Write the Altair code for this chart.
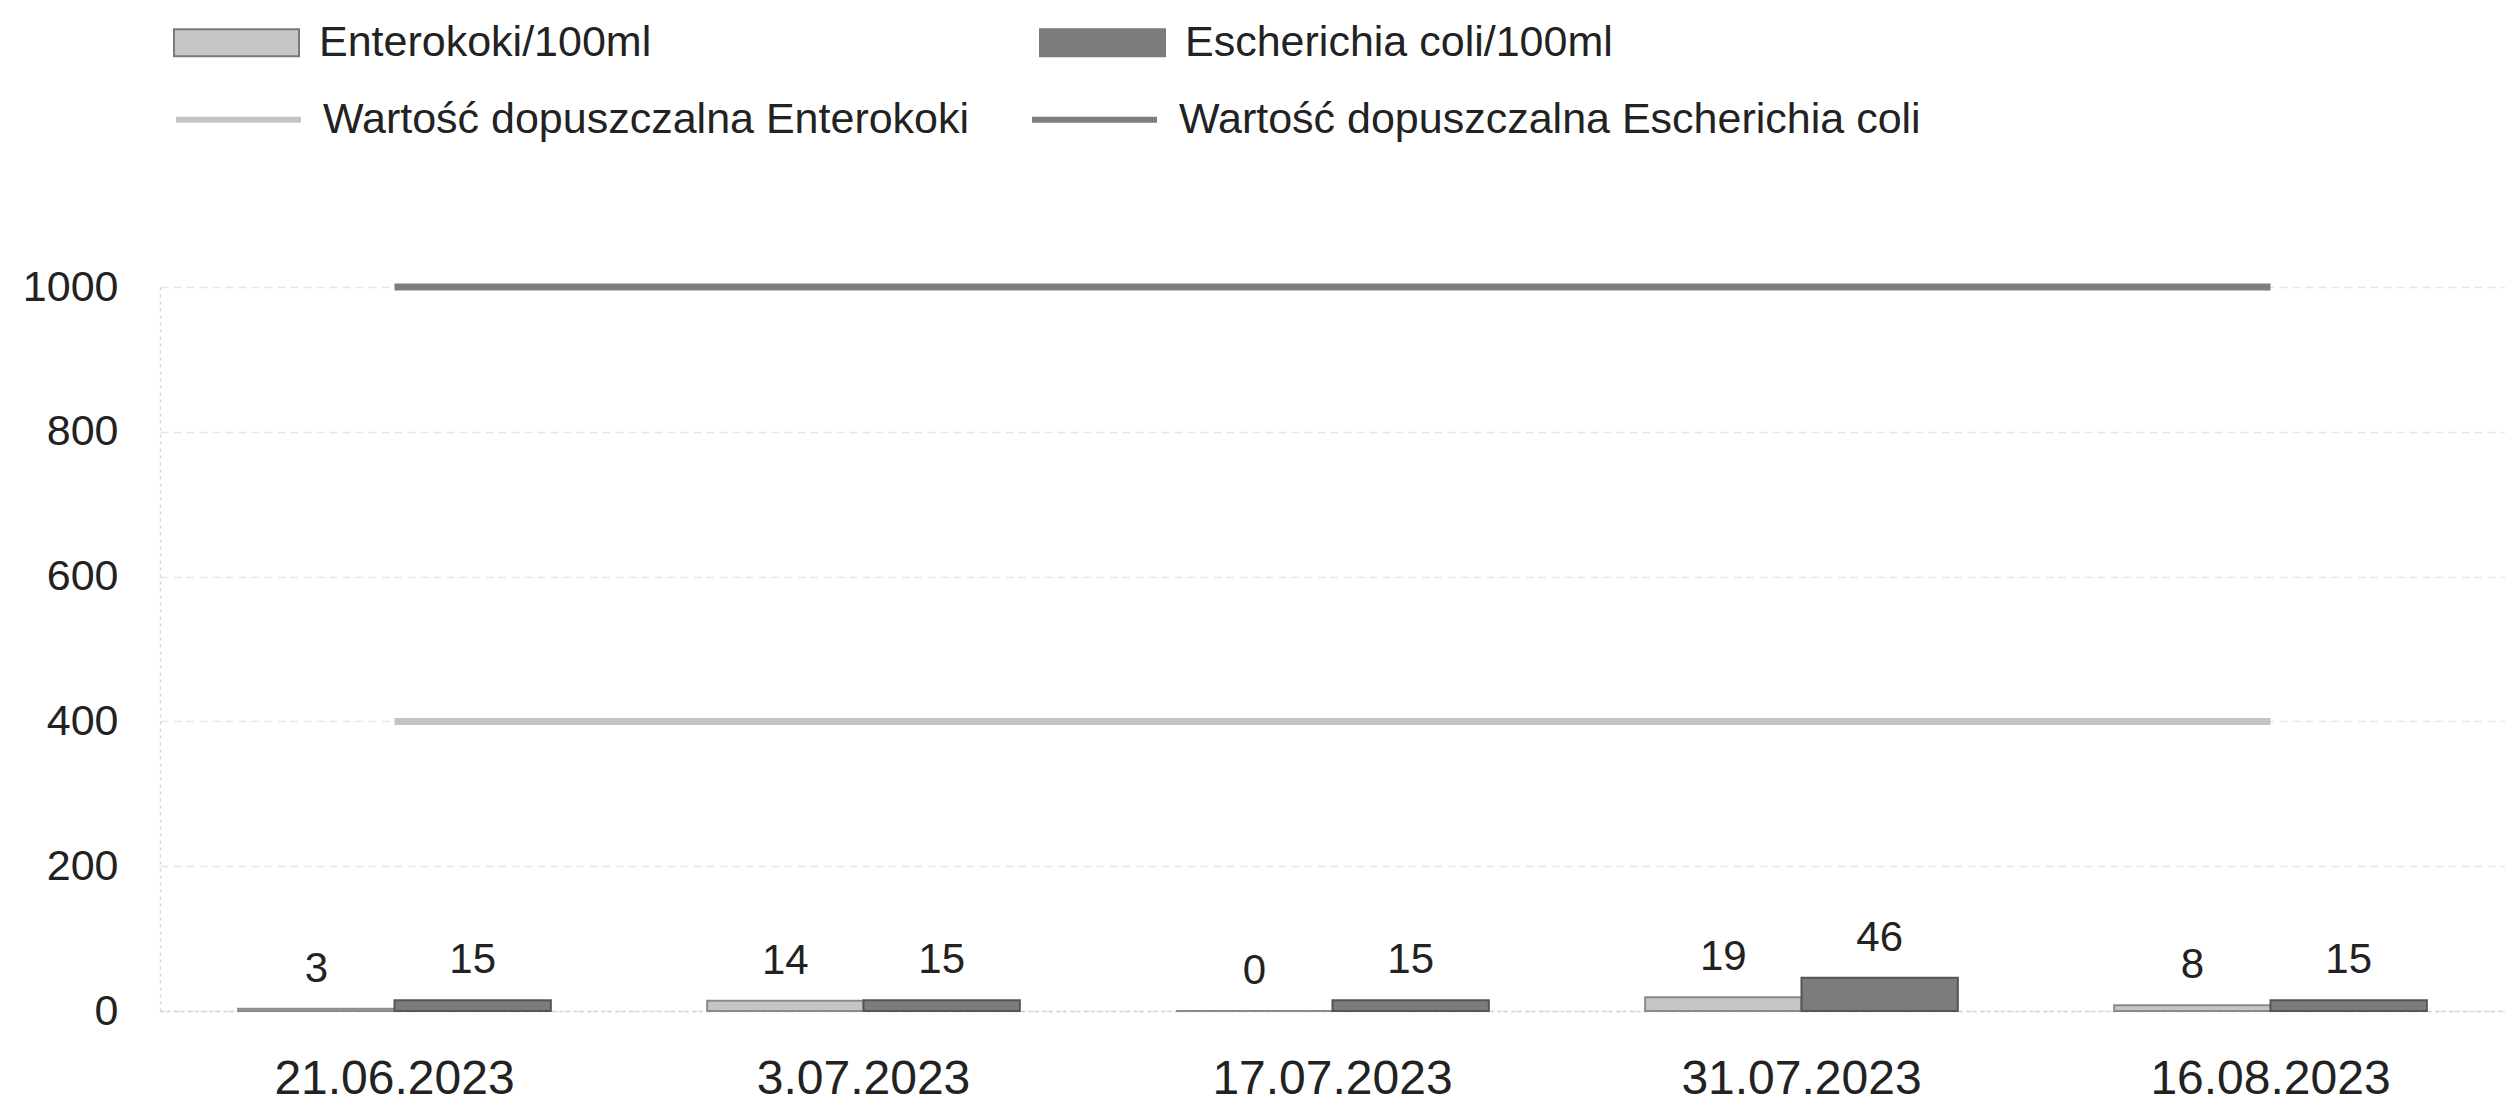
import altair as alt
import pandas as pd

dates = ["21.06.2023", "3.07.2023", "17.07.2023", "31.07.2023", "16.08.2023"]
enterokoki = [3, 14, 0, 19, 8]
ecoli = [15, 15, 15, 46, 15]
limit_enterokoki = [400, 400, 400, 400, 400]
limit_ecoli = [1000, 1000, 1000, 1000, 1000]

bar_series = ["Enterokoki/100ml", "Escherichia coli/100ml"]
line_series = ["Wartość dopuszczalna Enterokoki", "Wartość dopuszczalna Escherichia coli"]
y_ticks = [0, 200, 400, 600, 800, 1000]

rows_b = []
for d, a, b in zip(dates, enterokoki, ecoli):
    rows_b.append({"date": d, "series": bar_series[0], "value": a})
    rows_b.append({"date": d, "series": bar_series[1], "value": b})
bars_df = pd.DataFrame(rows_b)

rows_l = []
for d, a, b in zip(dates, limit_enterokoki, limit_ecoli):
    rows_l.append({"date": d, "series": line_series[0], "value": a})
    rows_l.append({"date": d, "series": line_series[1], "value": b})
lines_df = pd.DataFrame(rows_l)

FONT = "Liberation Sans"

x_enc = alt.X("date:N", sort=dates, title=None,
              scale=alt.Scale(paddingInner=1/3, paddingOuter=1/6),
              axis=alt.Axis(labelFontSize=48, labelPadding=44, ticks=False, labelAngle=0,
                            labelLimit=600, domain=True, domainColor="#d0d0d0",
                            domainDash=[3, 4], domainWidth=1.5,
                            grid=False, labelColor="#222", labelFont=FONT))
y_enc = alt.Y("value:Q", title=None,
              scale=alt.Scale(domain=[0, 1000], nice=False),
              axis=alt.Axis(values=y_ticks, format="d", labelFontSize=43, labelPadding=42, ticks=False,
                            domain=True, domainColor="#d4d4d4", domainDash=[3, 4], domainWidth=1.5,
                            grid=True, gridColor="#e6e6e6", gridDash=[8, 5], gridWidth=1.5,
                            labelColor="#222", labelFont=FONT))

xoff = alt.XOffset("series:N", sort=bar_series,
                   scale=alt.Scale(domain=bar_series, paddingInner=0, paddingOuter=0))

bars = alt.Chart(bars_df).mark_bar(strokeWidth=2).encode(
    x=x_enc,
    xOffset=xoff,
    y=y_enc,
    fill=alt.Fill("series:N", sort=bar_series,
                  scale=alt.Scale(domain=bar_series, range=["#c6c6c6", "#7c7c7c"]),
                  legend=alt.Legend(title=None, orient="none", legendX=13, legendY=-308,
                                    direction="horizontal", columnPadding=384,
                                    symbolType="M-1,-0.216H1V0.216H-1Z", symbolSize=15625,
                                    symbolStrokeColor="#7a7a7a", symbolStrokeWidth=2,
                                    labelFontSize=43, labelOffset=19, labelColor="#222",
                                    labelFont=FONT, labelLimit=1000, padding=0)),
    stroke=alt.condition(alt.datum.series == bar_series[0], alt.value("#8a8a8a"), alt.value("#555555")),
)

labels = alt.Chart(bars_df).mark_text(
    fontSize=42, font=FONT, color="#222", baseline="alphabetic", dy=-27
).encode(
    x=alt.X("date:N", sort=dates),
    xOffset=xoff,
    y=alt.Y("value:Q"),
    text=alt.Text("value:Q"),
)

lines = alt.Chart(lines_df).mark_line(strokeWidth=7).encode(
    x=alt.X("date:N", sort=dates),
    y=alt.Y("value:Q"),
    stroke=alt.Stroke("series:N", sort=line_series,
                      scale=alt.Scale(domain=line_series, range=["#c4c4c4", "#7e7e7e"]),
                      legend=alt.Legend(title=None, orient="none", legendX=13, legendY=-233,
                                        direction="horizontal", columnPadding=50,
                                        symbolType="stroke", symbolSize=15625, symbolStrokeWidth=6,
                                        labelFontSize=43, labelOffset=19, labelColor="#222",
                                        labelFont=FONT, labelLimit=1000, padding=0)),
    detail="series:N",
)

chart = alt.layer(bars, lines, labels).resolve_scale(
    fill="independent", stroke="independent"
).properties(
    width=2345, height=724,
    autosize=alt.AutoSizeParams(type="none"),
    padding={"left": 152, "top": 279, "right": 0, "bottom": 93},
    background="white",
).configure_view(stroke=None).configure_text(font=FONT)

chart.save("out.html", embed_options={"renderer": "svg", "actions": False})
